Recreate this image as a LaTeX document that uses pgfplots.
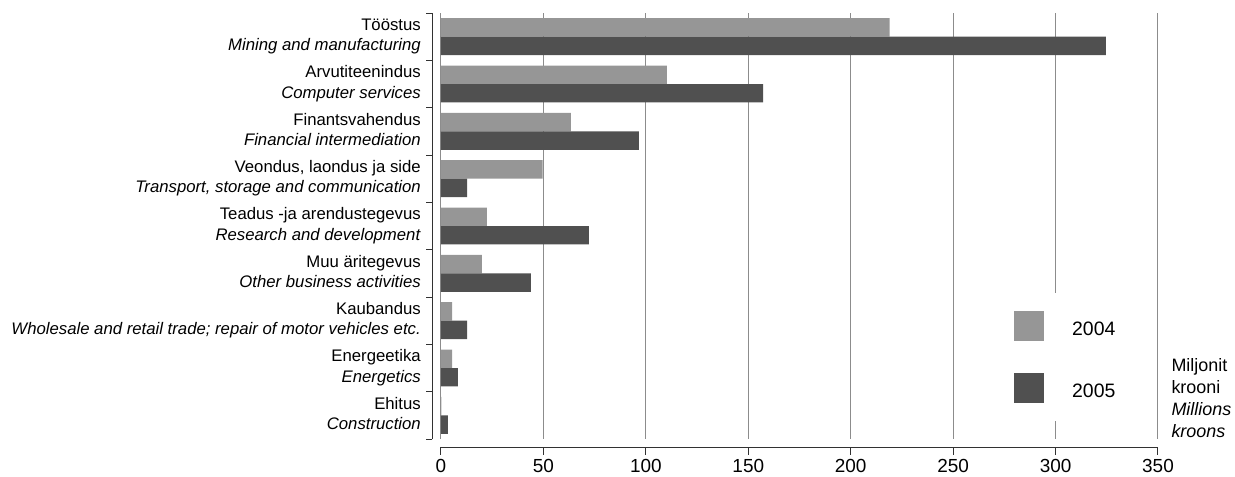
\documentclass[border=0pt]{standalone}
\usepackage{fontspec}
\setmainfont{Liberation Sans}
\usepackage{pgfplots}
\pgfplotsset{compat=1.18}
\definecolor{cA}{RGB}{150,150,150}
\definecolor{cB}{RGB}{80,80,80}
\definecolor{gridc}{RGB}{140,140,140}
\definecolor{axc}{RGB}{50,50,50}
\newcommand{\lab}[2]{\begin{tabular}{@{}r@{}}#1\\\textit{#2}\end{tabular}}
\begin{document}
\fontsize{16.8}{20.5}\selectfont
\begin{tikzpicture}
\begin{axis}[
  scale only axis, width=717bp, height=426bp,
  xmin=0, xmax=350, ymin=-0.5, ymax=8.5, y dir=reverse,
  xbar, bar width=0.39,
  xtick={0,50,...,350}, ytick={0,...,8},
  yticklabels={
    \lab{Tööstus}{Mining and manufacturing},
    \lab{Arvutiteenindus}{Computer services},
    \lab{Finantsvahendus}{Financial intermediation},
    \lab{Veondus, laondus ja side}{Transport, storage and communication},
    \lab{Teadus -ja arendustegevus}{Research and development},
    \lab{Muu äritegevus}{Other business activities},
    \lab{Kaubandus}{Wholesale and retail trade; repair of motor vehicles etc.},
    \lab{Energeetika}{Energetics},
    \lab{Ehitus}{Construction}},
  major tick length=0pt,
  axis line style={draw=none},
  xmajorgrids, grid style={gridc, line width=1bp},
  clip=false,
  /pgf/number format/assume math mode=true,
  yticklabel style={font=\fontsize{16.8}{20.5}\selectfont, inner sep=0pt, xshift=-20bp},
  xticklabel style={font=\fontsize{19}{23}\selectfont, inner sep=0pt, yshift=-20.5bp},
  legend style={at={(axis cs:262.6,5.416)}, anchor=north west, draw=none, fill=white,
    inner xsep=35bp, inner ysep=18bp, row sep=31.5bp, column sep=28bp,
    nodes={inner sep=0pt}, font=\fontsize{19.5}{23}\selectfont},
  legend cell align=left,
  legend image code/.code={\path[#1,draw=none] (0bp,-11bp) rectangle (30bp,19bp);},
]
\addplot[fill=cA, draw=none, bar shift=-0.195] coordinates {
  (219,0) (110.3,1) (63.4,2) (49.6,3) (22.4,4) (20,5) (5.4,6) (5.4,7) (0.2,8)};
\addplot[fill=cB, draw=none, bar shift=0.195] coordinates {
  (324.5,0) (157.2,1) (96.6,2) (12.7,3) (72.2,4) (43.9,5) (12.7,6) (8.3,7) (3.4,8)};
\legend{2004,2005}
\draw[axc, line width=1bp] ([xshift=-8.5bp]axis cs:0,-0.5) -- ([xshift=-8.5bp]axis cs:0,8.5);
\pgfplotsinvokeforeach{-0.5,0.5,...,8.5}{\draw[axc, line width=1bp] ([xshift=-8.5bp]axis cs:0,#1) -- ([xshift=-14.5bp]axis cs:0,#1);}
\draw[axc, line width=1bp] ([yshift=-8bp]axis cs:0,8.5) -- ([yshift=-8bp]axis cs:350,8.5);
\pgfplotsinvokeforeach{0,50,...,350}{\draw[axc, line width=1bp] ([yshift=-8bp]axis cs:#1,8.5) -- ([yshift=-16bp]axis cs:#1,8.5);}
\node[anchor=west, inner sep=0pt, font=\fontsize{18}{21.8}\selectfont] at (axis cs:356.5,7.68)
  {\begin{tabular}{@{}l@{}}Miljonit\\krooni\\\textit{Millions}\\\textit{kroons}\end{tabular}};
\coordinate (O) at (axis cs:0,8.5);
\end{axis}
\pgfresetboundingbox
\useasboundingbox ([shift={(-441bp,-38bp)}]O) rectangle ++(1235bp,477bp);
\end{tikzpicture}
\end{document}
